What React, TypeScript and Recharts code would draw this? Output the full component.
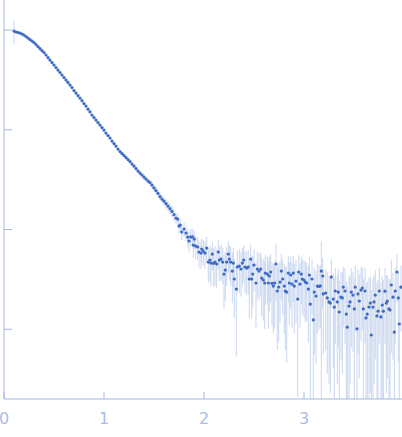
import React from "react";
import { ScatterChart, Scatter, XAxis, YAxis, ErrorBar } from "recharts";

// Scattering vector q (x) and intensity I (y, log axis) with standard error sigma
const smoothQ = [
  0.1, 0.12, 0.14, 0.16, 0.18, 0.2, 0.22, 0.24, 0.26, 0.28,
  0.3, 0.32, 0.34, 0.36, 0.38, 0.4, 0.42, 0.44, 0.46, 0.48,
  0.5, 0.52, 0.54, 0.56, 0.58, 0.6, 0.62, 0.64, 0.66, 0.68,
  0.7, 0.72, 0.74, 0.76, 0.78, 0.8, 0.82, 0.84, 0.86, 0.88,
  0.9, 0.92, 0.94, 0.96, 0.98, 1.0, 1.02, 1.04, 1.06, 1.08,
  1.1, 1.12, 1.14, 1.16, 1.18, 1.2, 1.22, 1.24, 1.26, 1.28,
  1.3, 1.32, 1.34, 1.36, 1.38, 1.4, 1.42, 1.44, 1.46, 1.48,
  1.5, 1.52, 1.54, 1.56, 1.58, 1.6, 1.62, 1.64, 1.66, 1.68,
  1.7,
];
const smoothI = [
  0.977, 0.955, 0.944, 0.933, 0.912, 0.891, 0.861, 0.831, 0.803, 0.776,
  0.749, 0.716, 0.683, 0.652, 0.623, 0.595, 0.562, 0.53, 0.5, 0.472,
  0.446, 0.421, 0.397, 0.375, 0.354, 0.334, 0.315, 0.298, 0.281, 0.265,
  0.247, 0.2335, 0.22, 0.208, 0.196, 0.183, 0.173, 0.161, 0.151, 0.1405,
  0.1326, 0.1252, 0.1182, 0.1116, 0.1053, 0.0994, 0.0928, 0.0876, 0.0827, 0.0771,
  0.0728, 0.0687, 0.0641, 0.0605, 0.0578, 0.0552, 0.0527, 0.0503, 0.0481, 0.0454,
  0.0433, 0.0409, 0.0386, 0.0368, 0.0352, 0.0336, 0.0321, 0.0306, 0.0296, 0.0279,
  0.0261, 0.0246, 0.023, 0.0214, 0.0202, 0.0193, 0.0182, 0.0172, 0.0162, 0.0152,
  0.0141,
];
const smoothSigma = [
  0.26, 0.006, 0.006, 0.006, 0.006, 0.006, 0.006, 0.006, 0.006, 0.006,
  0.005, 0.005, 0.005, 0.005, 0.005, 0.005, 0.005, 0.005, 0.005, 0.005,
  0.004, 0.004, 0.004, 0.004, 0.004, 0.004, 0.004, 0.004, 0.004, 0.004,
  0.003, 0.003, 0.003, 0.003, 0.003, 0.003, 0.003, 0.003, 0.003, 0.003,
  0.0025, 0.0025, 0.0025, 0.0025, 0.0025, 0.0025, 0.0025, 0.0025, 0.0025, 0.0025,
  0.0022, 0.0022, 0.0022, 0.0022, 0.0022, 0.0022, 0.0022, 0.0022, 0.0022, 0.0022,
  0.0021, 0.0021, 0.0021, 0.0021, 0.0021, 0.0021, 0.0021, 0.0021, 0.0021, 0.0021,
  0.002, 0.002, 0.002, 0.002, 0.002, 0.002, 0.002, 0.002, 0.002, 0.002,
  0.0018,
];

const noisyQ = [
  1.72, 1.737, 1.75, 1.763, 1.777, 1.8, 1.82, 1.837, 1.85, 1.867,
  1.883, 1.893, 1.903, 1.917, 1.937, 1.95, 1.97, 1.977, 1.993, 2.01,
  2.027, 2.043, 2.06, 2.07, 2.083, 2.097, 2.11, 2.127, 2.143, 2.153,
  2.17, 2.187, 2.2, 2.213, 2.227, 2.243, 2.253, 2.267, 2.283, 2.293,
  2.303, 2.323, 2.333, 2.353, 2.37, 2.383, 2.397, 2.41, 2.427, 2.443,
  2.453, 2.467, 2.477, 2.487, 2.5, 2.52, 2.533, 2.55, 2.567, 2.577,
  2.593, 2.607, 2.613, 2.633, 2.643, 2.653, 2.667, 2.68, 2.693, 2.707,
  2.72, 2.733, 2.747, 2.76, 2.773, 2.787, 2.803, 2.813, 2.827, 2.843,
  2.853, 2.867, 2.88, 2.893, 2.903, 2.92, 2.937, 2.947, 2.96, 2.973,
  2.983, 3.0, 3.013, 3.027, 3.043, 3.053, 3.063, 3.08, 3.093, 3.103,
  3.12, 3.133, 3.15, 3.163, 3.173, 3.187, 3.193, 3.217, 3.233, 3.25,
  3.263, 3.273, 3.293, 3.303, 3.313, 3.333, 3.343, 3.353, 3.37, 3.383,
  3.393, 3.41, 3.423, 3.433, 3.45, 3.46, 3.473, 3.49, 3.503, 3.513,
  3.53, 3.54, 3.553, 3.57, 3.583, 3.593, 3.61, 3.62, 3.633, 3.65,
  3.663, 3.673, 3.69, 3.7, 3.713, 3.73, 3.74, 3.753, 3.77, 3.783,
  3.793, 3.81, 3.823, 3.833, 3.85, 3.86, 3.873, 3.89, 3.903, 3.913,
  3.93, 3.943, 3.953, 3.97,
];
const noisyI = [
  0.01304, 0.01274, 0.01084, 0.0111, 0.00944, 0.01012, 0.00922, 0.00841, 0.00767, 0.00841,
  0.00845, 0.00699, 0.00803, 0.00683, 0.00668, 0.00595, 0.00581, 0.00637, 0.00609, 0.00581,
  0.00652, 0.00472, 0.00494, 0.00461, 0.00568, 0.00458, 0.00472, 0.00451, 0.00595, 0.00494,
  0.00506, 0.00472, 0.00358, 0.00392, 0.00472, 0.00568, 0.00506, 0.00472, 0.00383, 0.00461,
  0.00319, 0.00253, 0.00421, 0.0043, 0.00402, 0.00461, 0.00494, 0.00421, 0.00411, 0.00421,
  0.00319, 0.00506, 0.00319, 0.00358, 0.0044, 0.00291, 0.00402, 0.00383, 0.00402, 0.00326,
  0.00312, 0.00291, 0.00366, 0.00358, 0.00291, 0.00342, 0.00375, 0.00289, 0.00271, 0.00291,
  0.00451, 0.00242, 0.00265, 0.00297, 0.00383, 0.00319, 0.00271, 0.00242, 0.00236, 0.00366,
  0.00291, 0.0035, 0.00284, 0.00366, 0.00271, 0.00304, 0.00201, 0.00375, 0.00284, 0.00358,
  0.00319, 0.00312, 0.00297, 0.00291, 0.00253, 0.0035, 0.00179, 0.00319, 0.00124, 0.00236,
  0.00215, 0.00271, 0.00269, 0.00272, 0.00383, 0.00342, 0.00226, 0.00231, 0.00206, 0.00188,
  0.00183, 0.00334, 0.00201, 0.00167, 0.00242, 0.00188, 0.00236, 0.00149, 0.0021, 0.00206,
  0.00265, 0.00242, 0.00142, 0.00105, 0.00171, 0.00188, 0.00236, 0.0022, 0.0016, 0.00265,
  0.00101, 0.00226, 0.00192, 0.00247, 0.00259, 0.0016, 0.00242, 0.0013, 0.00142, 0.00167,
  0.00183, 0.000876, 0.00167, 0.00188, 0.0022, 0.00136, 0.00152, 0.00242, 0.00133, 0.00175,
  0.00152, 0.00241, 0.00183, 0.00192, 0.0016, 0.00156, 0.00278, 0.0021, 0.000938, 0.00242,
  0.00375, 0.00206, 0.00113, 0.00265,
];
const noisySigma = [
  0.0016, 0.0016, 0.0017, 0.0016, 0.0017, 0.0017, 0.0016, 0.0017, 0.0018, 0.0017,
  0.0017, 0.0018, 0.0017, 0.0018, 0.0017, 0.0018, 0.0018, 0.0017, 0.0018, 0.0018,
  0.0019, 0.0018, 0.0019, 0.0019, 0.0018, 0.0019, 0.002, 0.0019, 0.002, 0.0019,
  0.002, 0.0019, 0.002, 0.002, 0.002, 0.002, 0.0019, 0.002, 0.002, 0.002,
  0.0019, 0.002, 0.0019, 0.002, 0.0019, 0.0019, 0.002, 0.0019, 0.0019, 0.002,
  0.0019, 0.002, 0.0019, 0.0019, 0.002, 0.0019, 0.002, 0.0019, 0.0019, 0.0019,
  0.0019, 0.0019, 0.0019, 0.0018, 0.0019, 0.0019, 0.0019, 0.0018, 0.0018, 0.0019,
  0.0026, 0.0018, 0.0019, 0.0018, 0.0019, 0.0018, 0.0018, 0.0018, 0.0019, 0.0018,
  0.0018, 0.0019, 0.0018, 0.0018, 0.0018, 0.0019, 0.0018, 0.0018, 0.0018, 0.0018,
  0.0018, 0.0018, 0.0018, 0.0017, 0.0018, 0.0018, 0.0017, 0.0018, 0.0017, 0.0018,
  0.0017, 0.0018, 0.0017, 0.0017, 0.0038, 0.0018, 0.0017, 0.0017, 0.0017, 0.0016,
  0.0016, 0.0017, 0.0016, 0.0016, 0.0017, 0.0016, 0.0017, 0.0016, 0.0016, 0.0017,
  0.0016, 0.0017, 0.0016, 0.0016, 0.0016, 0.0016, 0.0017, 0.0016, 0.0016, 0.0017,
  0.0016, 0.0017, 0.0016, 0.0017, 0.0016, 0.0016, 0.0017, 0.0016, 0.0016, 0.0016,
  0.0016, 0.0016, 0.0016, 0.0016, 0.0017, 0.0016, 0.0016, 0.0017, 0.0016, 0.0016,
  0.0016, 0.0017, 0.0016, 0.0016, 0.0016, 0.0016, 0.0022, 0.0016, 0.0016, 0.0017,
  0.0019, 0.0016, 0.0016, 0.0017,
];

const xTicks = [0, 1, 2, 3];
const yTicks = [0.001, 0.01, 0.1, 1];
const X_DOMAIN: [number, number] = [0, 3.98];
const Y_DOMAIN: [number, number] = [0.0002, 2];

const CHART_W = 402;
const CHART_H = 437;
const X_AXIS_H = 38;
const PLOT_BOTTOM = CHART_H - X_AXIS_H;

const AXIS = "#a3b7e1";
const LABEL = "#a9bde6";
const DOT = "#3b6bc6";
const BAR = "#c9d6ef";

const allQ = [...smoothQ, ...noisyQ];
const allI = [...smoothI, ...noisyI];
const allS = [...smoothSigma, ...noisySigma];

const rows = allQ.map((q, i) => {
  const s = allS[i];
  const v = allI[i];
  return { q, I: v, err: [Math.min(s, v - Y_DOMAIN[0]), s] };
});

const XLabel = (props: any) => {
  const { x, payload } = props;
  return (
    <text
      x={x}
      y={PLOT_BOTTOM + 25}
      textAnchor="middle"
      fill={LABEL}
      fontSize={16}
      fontFamily="DejaVu Sans"
    >
      {payload.value}
    </text>
  );
};

const NoLabel = () => <g />;

const Dot = (props: any) => {
  const { cx, cy } = props;
  if (cx == null || cy == null || isNaN(cx) || isNaN(cy)) return <g />;
  return <circle cx={cx} cy={cy} r={1.6} fill={DOT} />;
};

export default function App() {
  return (
    <div style={{ position: "absolute", left: 0, top: 0, width: CHART_W, height: CHART_H, background: "#fff" }}>
      <ScatterChart width={CHART_W} height={CHART_H} margin={{ top: 0, right: 0, bottom: 0, left: 0 }}>
        <XAxis
          type="number"
          dataKey="q"
          domain={X_DOMAIN}
          ticks={xTicks}
          interval={0}
          allowDataOverflow
          height={X_AXIS_H}
          stroke={AXIS}
          tickLine={{ stroke: AXIS }}
          tickSize={-7}
          tickMargin={0}
          tick={XLabel}
        />
        <YAxis
          type="number"
          dataKey="I"
          scale="log"
          domain={Y_DOMAIN}
          ticks={yTicks}
          interval={0}
          allowDataOverflow
          width={4}
          tickLine={{ stroke: AXIS }}
          tickSize={-8}
          stroke={AXIS}
          tick={NoLabel}
        />
        <Scatter data={rows} isAnimationActive={false} shape={Dot}>
          <ErrorBar dataKey="err" direction="y" width={0} stroke={BAR} strokeWidth={1} />
        </Scatter>
      </ScatterChart>
    </div>
  );
}
